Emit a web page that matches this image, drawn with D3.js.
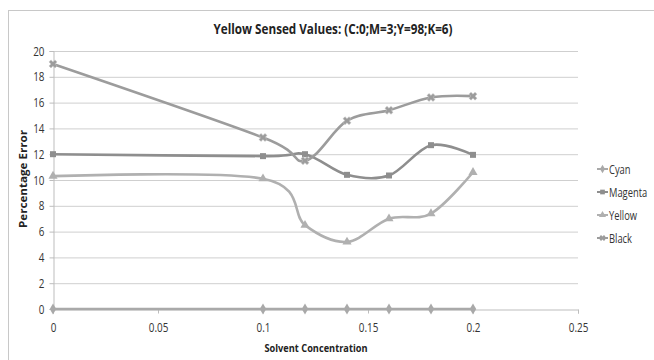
<!DOCTYPE html>
<html>
<head>
<meta charset="utf-8">
<script src="https://cdn.jsdelivr.net/npm/d3@7"></script>
<style>
  html, body { margin: 0; padding: 0; background: #fff; }
  svg { display: block; font-family: "Open Sans", "Liberation Sans", sans-serif; }
</style>
</head>
<body>
<svg id="chart" width="654" height="360"></svg>
<script>
// Solvent concentration (x) and percentage error per ink channel
const concentrations = [0, 0.1, 0.12, 0.14, 0.16, 0.18, 0.2];
const cyanValues    = [0, 0, 0, 0, 0, 0, 0];
const magentaValues = [12.0, 11.85, 12.0, 10.4, 10.35, 12.7, 11.95];
const yellowValues  = [10.3, 10.1, 6.5, 5.2, 7.0, 7.4, 10.6];
const blackValues   = [19.0, 13.3, 11.5, 14.6, 15.4, 16.4, 16.5];
const seriesNames   = ["Cyan", "Magenta", "Yellow", "Black"];
const xTicks = [0, 0.05, 0.1, 0.15, 0.2, 0.25];
const yTicks = [0, 2, 4, 6, 8, 10, 12, 14, 16, 18, 20];

const seriesValues = [cyanValues, magentaValues, yellowValues, blackValues];
const seriesColors = ["#a9a9a9", "#8e8e8e", "#b0b0b0", "#9c9c9c"];
const seriesMarkers = [d3.symbolDiamond, d3.symbolSquare, d3.symbolTriangle, d3.symbolCross];

const svg = d3.select("#chart");

// narrow the glyphs of a text selection horizontally
function condense(sel, factor) {
  sel.each(function () {
    const w = this.getComputedTextLength();
    d3.select(this).attr("textLength", w * factor).attr("lengthAdjust", "spacingAndGlyphs");
  });
}

// outer chart frame
svg.append("rect")
  .attr("x", 8.5).attr("y", 10.5)
  .attr("width", 660).attr("height", 360)
  .attr("fill", "none").attr("stroke", "#c8c8c8");

const plot = { left: 53, right: 578, top: 51, bottom: 309 };
const x = d3.scaleLinear().domain([0, 0.25]).range([plot.left, plot.right]);
const y = d3.scaleLinear().domain([0, 20]).range([plot.bottom, plot.top]);

// horizontal gridlines
svg.append("g").selectAll("line")
  .data(yTicks.filter(d => d > 0))
  .join("line")
  .attr("x1", plot.left).attr("x2", plot.right)
  .attr("y1", d => y(d) + 0.5).attr("y2", d => y(d) + 0.5)
  .attr("stroke", "#cfcfcf").attr("stroke-width", 1);

// y axis
const yAxis = svg.append("g")
  .attr("transform", `translate(${plot.left + 0.5},0)`)
  .call(d3.axisLeft(y).tickValues(yTicks).tickSize(4).tickPadding(5).tickFormat(d3.format("d")));
yAxis.select(".domain").attr("stroke", "#bdbdbd");
yAxis.selectAll(".tick line").attr("stroke", "#bdbdbd");
yAxis.selectAll("text").attr("font-size", 13).attr("fill", "#333")
  .attr("font-family", "'Open Sans', sans-serif").call(condense, 0.76);

// x axis
const xAxis = svg.append("g")
  .attr("transform", `translate(0,${plot.bottom + 0.5})`)
  .call(d3.axisBottom(x).tickValues(xTicks).tickSize(4).tickPadding(9)
    .tickFormat(d => d === 0 ? "0" : String(+d.toFixed(2))));
xAxis.select(".domain").attr("stroke", "#bdbdbd");
xAxis.selectAll(".tick line").attr("stroke", "#bdbdbd");
xAxis.selectAll("text").attr("font-size", 13).attr("fill", "#333")
  .attr("font-family", "'Open Sans', sans-serif").call(condense, 0.76);

// series lines (smoothed) and markers
const line = d3.line()
  .x((d, i) => x(concentrations[i]))
  .y(d => y(d))
  .curve(d3.curveCardinal.tension(0));

seriesValues.forEach((vals, s) => {
  const g = svg.append("g");
  g.append("path")
    .datum(vals)
    .attr("d", line)
    .attr("fill", "none")
    .attr("stroke", seriesColors[s])
    .attr("stroke-width", 2.6)
    .attr("stroke-linejoin", "round");
  g.selectAll("path.marker")
    .data(vals)
    .join("path")
    .attr("class", "marker")
    .attr("transform", (d, i) => `translate(${x(concentrations[i])},${y(d)})` + (s === 3 ? " rotate(45)" : ""))
    .attr("d", d3.symbol().type(seriesMarkers[s]).size(s === 3 ? 40 : 36))
    .attr("fill", seriesColors[s])
    .attr("stroke", s === 3 ? "#c4c4c4" : "none")
    .attr("stroke-width", 0.5);
});

// title
svg.append("text")
  .attr("x", 333).attr("y", 34)
  .attr("text-anchor", "middle")
  .attr("font-size", 14).attr("font-weight", "bold").attr("fill", "#222")
  .attr("textLength", 239).attr("lengthAdjust", "spacingAndGlyphs")
  .text("Yellow Sensed Values: (C:0;M=3;Y=98;K=6)");

// axis titles
svg.append("text")
  .attr("x", 316).attr("y", 352)
  .attr("text-anchor", "middle")
  .attr("font-size", 11).attr("font-weight", "bold").attr("fill", "#222")
  .attr("textLength", 103).attr("lengthAdjust", "spacingAndGlyphs")
  .text("Solvent Concentration");

svg.append("text")
  .attr("transform", "translate(27,179) rotate(-90)")
  .attr("text-anchor", "middle")
  .attr("font-size", 11).attr("font-weight", "bold").attr("fill", "#222")
  .attr("textLength", 98).attr("lengthAdjust", "spacingAndGlyphs")
  .text("Percentage Error");

// legend: labels drawn in a horizontally squeezed group
const legend = svg.append("g");
seriesNames.forEach((name, s) => {
  const ly = 169 + s * 23;
  legend.append("line")
    .attr("x1", 597).attr("x2", 608)
    .attr("y1", ly).attr("y2", ly)
    .attr("stroke", seriesColors[s]).attr("stroke-width", 2);
  legend.append("path")
    .attr("transform", `translate(602.5,${ly})` + (s === 3 ? " rotate(45)" : ""))
    .attr("d", d3.symbol().type(seriesMarkers[s]).size(22))
    .attr("fill", seriesColors[s]);
  legend.append("g")
    .attr("transform", `translate(609,${ly + 4.5}) scale(0.78,1)`)
    .append("text")
    .attr("font-size", 12).attr("fill", "#333")
    .text(name);
});
</script>
</body>
</html>
